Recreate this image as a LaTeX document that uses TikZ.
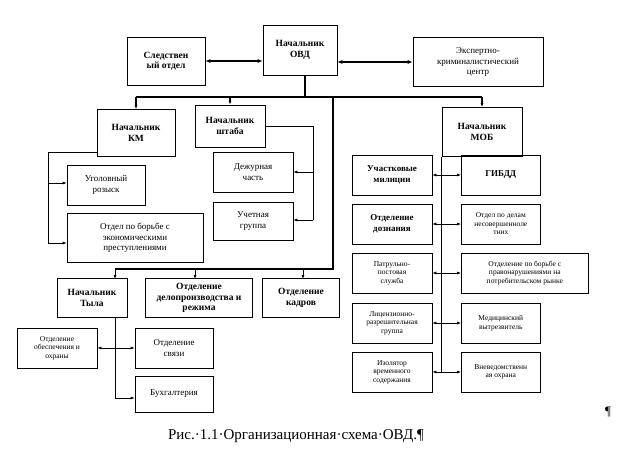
\documentclass[tikz,border=0pt]{standalone}
\usepackage{fontspec}
\setmainfont{Liberation Serif}
\usetikzlibrary{arrows.meta}
\begin{document}
\begin{tikzpicture}[x=1pt,y=-1pt,
  box/.style={draw,line width=0.6pt,align=center,inner sep=1pt,font=\fontsize{9}{10.5}\selectfont},
  bbox/.style={box,font=\bfseries\fontsize{9.5}{10.5}\selectfont},
  sbox/.style={box,font=\fontsize{7.5}{8.5}\selectfont},
  thick bus/.style={line width=1.6pt},
  arr/.style={-{Latex[length=4pt,width=3pt]},line width=0.6pt},
  darr/.style={{Latex[length=4pt,width=3pt]}-{Latex[length=4pt,width=3pt]},line width=0.6pt},
  tarr/.style={{Latex[length=5pt,width=4pt]}-{Latex[length=5pt,width=4pt]},line width=1.2pt}]
\useasboundingbox (0,0) rectangle (623,460);
\fill[white] (0,0) rectangle (623,460);
% top
\node[bbox,minimum width=74pt,minimum height=50pt] (ovd) at (300,50) {Начальник\\ОВД};
\node[bbox,minimum width=78pt,minimum height=48pt] (sled) at (166,61) {Следствен\\ый отдел};
\node[box,minimum width=130pt,minimum height=49pt] (ekc) at (478,62) {Экспертно-\\криминалистический\\центр};
\draw[tarr] (sled) -- (sled-|ovd.west);
\draw[tarr] (ovd.east|-ekc) -- (ekc);
% second level
\node[bbox,minimum width=78pt,minimum height=47pt] (km) at (136,133) {Начальник\\КМ};
\node[bbox,minimum width=70pt,minimum height=42pt] (sht) at (230,126) {Начальник\\штаба};
\node[bbox,minimum width=80pt,minimum height=49pt] (mob) at (482,132) {Начальник\\МОБ};
\coordinate (b1) at (305,97);
\draw[thick bus] (ovd.south-|b1) -- (b1);
\draw[thick bus] (km.north|-b1) -- (mob.north|-b1);
\draw[arr,line width=1.2pt] (km.north|-b1) -- (km.north);
\draw[arr,line width=1.2pt] (sht.north|-b1) -- (sht.north);
\draw[arr,line width=1.2pt] (mob.north|-b1) -- (mob.north);
% KM subordinates
\node[box,minimum width=78pt,minimum height=40pt] (ugol) at (106,185) {Уголовный\\розыск};
\node[box,minimum width=136pt,minimum height=49pt] (obep) at (135,238) {Отдел по борьбе с\\экономическими\\преступлениями};
\coordinate (kl) at (48,152);
\draw[line width=0.6pt] (km.west|-kl) -- (kl) -- (48,243);
\draw[arr] (48,183) -- (ugol.west|-0,183);
\draw[arr] (48,243) -- (obep.west|-0,243);
% shtab subordinates
\node[box,minimum width=80pt,minimum height=40pt] (dezh) at (253,172) {Дежурная\\часть};
\node[box,minimum width=80pt,minimum height=38pt] (uch) at (253,221) {Учетная\\группа};
\draw[line width=0.6pt] (sht.east) -- (313,126) -- (313,220);
\draw[arr] (313,172) -- (dezh.east|-0,172);
\draw[arr] (313,220) -- (uch.east|-0,220);
% lower bus
\coordinate (b2) at (333,269);
\draw[thick bus] (333,97) -- (b2) -- (115,269);
\node[bbox,minimum width=70pt,minimum height=39pt] (tyl) at (92,298) {Начальник\\Тыла};
\node[bbox,minimum width=107pt,minimum height=39pt] (delo) at (199,298) {Отделение\\делопроизводства и\\режима};
\node[bbox,minimum width=77pt,minimum height=39pt] (kadr) at (301,298) {Отделение\\кадров};
\draw[arr,line width=1pt] (115,269) -- (115,279);
\draw[arr,line width=1pt] (195,269) -- (195,279);
\draw[arr,line width=1pt] (303,269) -- (303,279);
% tyl subordinates
\node[sbox,minimum width=80pt,minimum height=40pt] (obes) at (57,348) {Отделение\\обеспечения и\\охраны};
\node[box,minimum width=78pt,minimum height=40pt] (svyaz) at (174,348) {Отделение\\связи};
\node[box,minimum width=78pt,minimum height=36pt] (buh) at (174,394) {Бухгалтерия};
\draw[line width=0.6pt] (115,318) -- (115,398);
\draw[darr] (obes.east) -- (svyaz.west);
\draw[arr] (115,398) -- (buh.west|-0,398);
% MOB subordinates
\draw[line width=0.6pt] (441,157) -- (441,372);
\foreach \n/\y/\l/\r/\w/\fl/\fr in {
 uch/175/{\textbf{Участковые}\\\textbf{милиции}}/{\textbf{ГИБДД}}/79/box/box,
 doz/224/{\textbf{Отделение}\\\textbf{дознания}}/{Отдел по делам\\несовершенноле\\тних}/79/box/sbox,
 pps/273/{Патрульно-\\постовая\\служба}/{Отделение по борьбе с\\правонарушениями на\\потребительском рынке}/127/sbox/sbox,
 lrr/323/{Лицензионно-\\разрешительная\\группа}/{Медицинский\\вытрезвитель}/79/sbox/sbox,
 izo/372/{Изолятор\\временного\\содержания}/{Вневедомственн\\ая охрана}/79/sbox/sbox}{
 \node[\fl,minimum width=80pt,minimum height=40pt] (L\n) at (392,\y) {\l};
 \node[\fr,minimum width=\w pt,minimum height=40pt,anchor=west] (R\n) at (461,\y) {\r};
 \draw[darr] (L\n.east) -- (R\n.west);
}
% caption
\node[font=\fontsize{15}{17}\selectfont] (cap) at (296,436) {Рис.·1.1·Организационная·схема·ОВД.¶};
\node[font=\fontsize{13}{15}\selectfont] (pil) at (608,412) {¶};
\end{tikzpicture}
\end{document}
